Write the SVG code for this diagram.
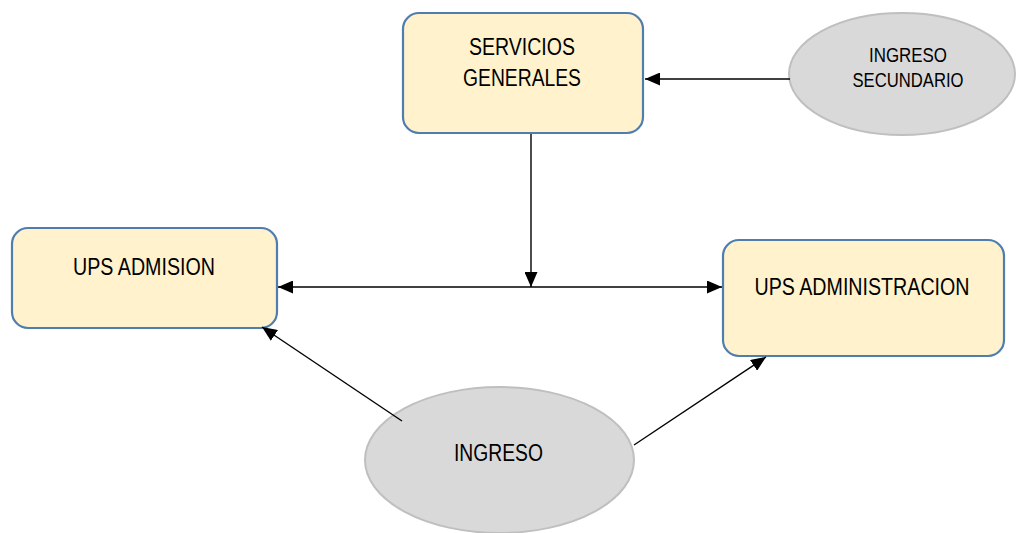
<svg xmlns="http://www.w3.org/2000/svg" width="1018" height="533" viewBox="0 0 1018 533">
<style>
.box{fill:#fff2cc;stroke:#4f7db0;stroke-width:2.2}
.ell{fill:#d9d9d9;stroke:#bfbfbf;stroke-width:2}
.t{font-family:"Liberation Sans",Arial,sans-serif;font-size:23px;fill:#000;text-anchor:middle}
.ts{font-family:"Liberation Sans",Arial,sans-serif;font-size:21px;fill:#000;text-anchor:middle}
.c{stroke:#000;stroke-width:1.4;fill:none}
</style>
<defs>
<marker id="ah" viewBox="0 0 15 13" refX="15" refY="6.5" markerWidth="15" markerHeight="13" markerUnits="userSpaceOnUse" orient="auto-start-reverse">
<path d="M0,0 L15,6.5 L0,13 Z" fill="#000"/>
</marker>
</defs>
<rect width="1018" height="533" fill="#fff"/>
<g id="servicios-generales">
<rect class="box" x="403" y="13" width="240" height="120" rx="16"/>
<text class="t" x="522" y="55" textLength="106" lengthAdjust="spacingAndGlyphs">SERVICIOS</text>
<text class="t" x="522" y="86" textLength="118" lengthAdjust="spacingAndGlyphs">GENERALES</text>
</g>
<g id="ingreso-secundario">
<ellipse class="ell" cx="902" cy="74" rx="113" ry="61"/>
<text class="ts" x="908" y="62" textLength="78" lengthAdjust="spacingAndGlyphs">INGRESO</text>
<text class="ts" x="908" y="87" textLength="111" lengthAdjust="spacingAndGlyphs">SECUNDARIO</text>
</g>
<g id="ups-admision">
<rect class="box" x="12" y="228" width="265" height="100" rx="16"/>
<text class="t" x="144" y="275" textLength="142" lengthAdjust="spacingAndGlyphs">UPS ADMISION</text>
</g>
<g id="ups-administracion">
<rect class="box" x="723" y="240" width="281" height="116" rx="16"/>
<text class="t" x="862" y="295" textLength="215" lengthAdjust="spacingAndGlyphs">UPS ADMINISTRACION</text>
</g>
<g id="ingreso">
<ellipse class="ell" cx="499.5" cy="460" rx="134.5" ry="73"/>
<text class="t" x="498.5" y="461" textLength="89" lengthAdjust="spacingAndGlyphs">INGRESO</text>
</g>
<g id="connectors">
<line class="c" x1="790" y1="79" x2="645" y2="79" marker-end="url(#ah)"/>
<line class="c" x1="531" y1="134" x2="531" y2="287" marker-end="url(#ah)"/>
<line class="c" x1="278" y1="287" x2="722" y2="287" marker-start="url(#ah)" marker-end="url(#ah)"/>
<line class="c" x1="402" y1="421" x2="262" y2="327" marker-end="url(#ah)"/>
<line class="c" x1="634" y1="445" x2="766" y2="357" marker-end="url(#ah)"/>
</g>
</svg>
